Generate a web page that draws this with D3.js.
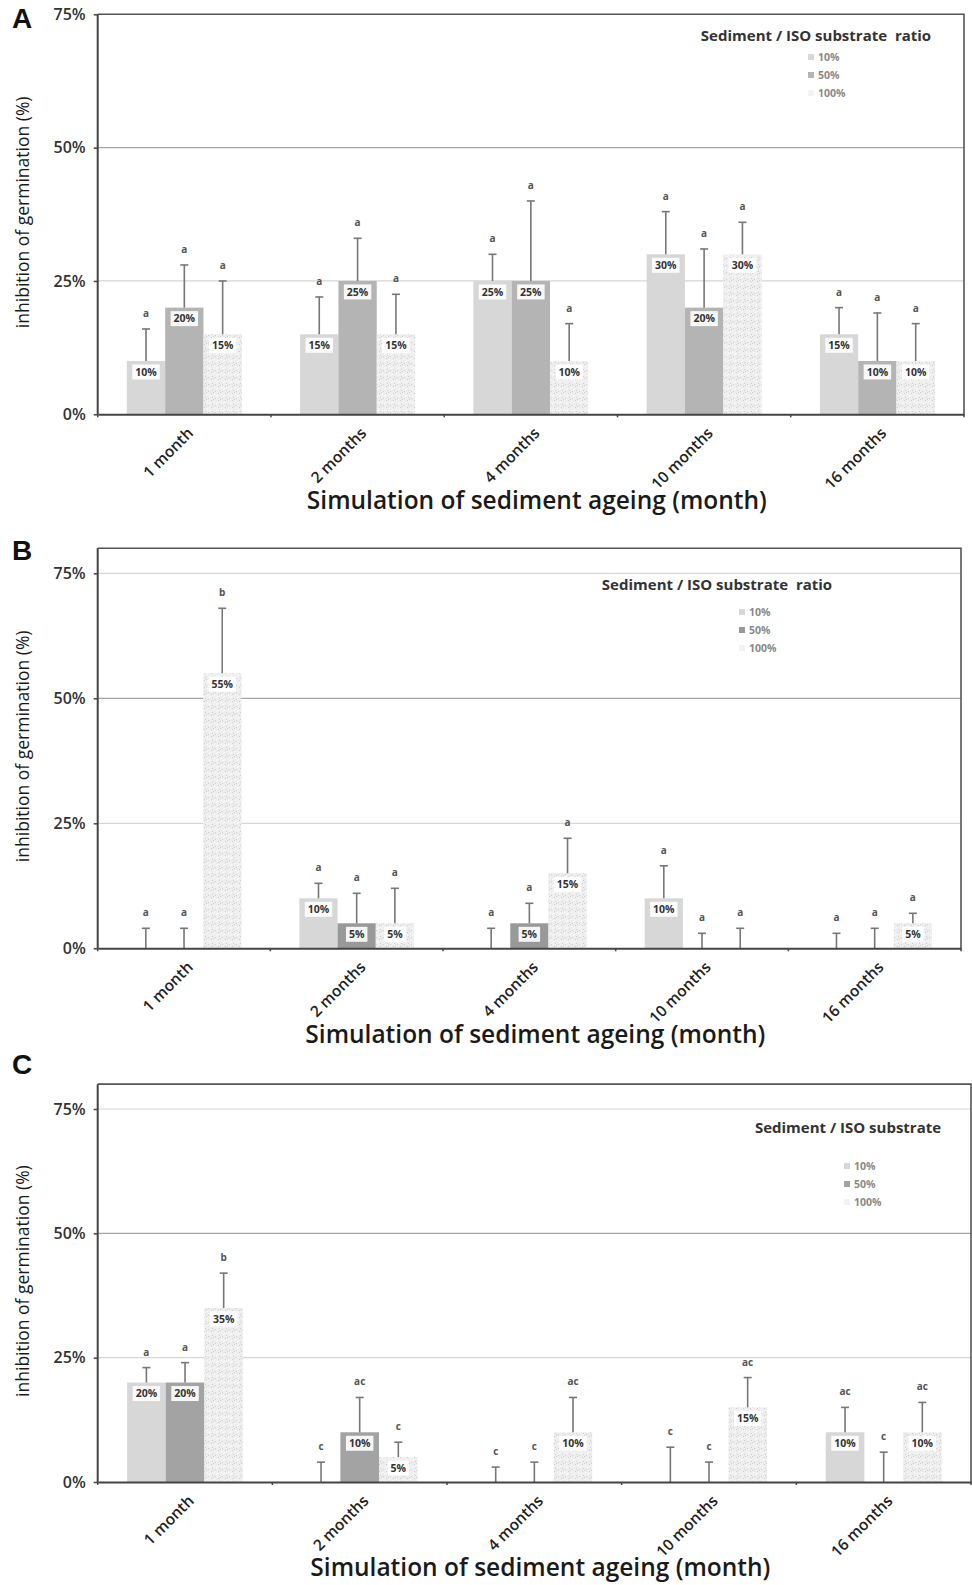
<!DOCTYPE html>
<meta charset="utf-8">
<style>
    html,
    body {
        margin: 0;
        padding: 0;
        background: #fff;
    }

    svg {
        display: block;
        font-family: "Open Sans", sans-serif;
    }
</style>
<svg id="chart" width="972" height="1585"></svg>
<script src="https://d3js.org/d3.v7.min.js"></script>
<script>
    // categories
    const months = ["1 month", "2 months", "4 months", "10 months", "16 months"];
    const ratios = ["10%", "50%", "100%"];
    const yTicks = [0, 25, 50, 75];

    // panel A : mean inhibition (%), standard deviation, letters
    const a10 = [10, 15, 25, 30, 15];
    const a50 = [20, 25, 25, 20, 10];
    const a100 = [15, 15, 10, 30, 10];
    const a10sd = [6, 7, 5, 8, 5];
    const a50sd = [8, 8, 15, 11, 9];
    const a100sd = [10, 7.5, 7, 6, 7];
    const a10let = ["a", "a", "a", "a", "a"];
    const a50let = ["a", "a", "a", "a", "a"];
    const a100let = ["a", "a", "a", "a", "a"];

    // panel B
    const b10 = [0, 10, 0, 10, 0];
    const b50 = [0, 5, 5, 0, 0];
    const b100 = [55, 5, 15, 0, 5];
    const b10sd = [4, 3, 4, 6.5, 3];
    const b50sd = [4, 6, 4, 3, 4];
    const b100sd = [13, 7, 7, 4, 2];
    const b10let = ["a", "a", "a", "a", "a"];
    const b50let = ["a", "a", "a", "a", "a"];
    const b100let = ["b", "a", "a", "a", "a"];

    // panel C
    const c10 = [20, 0, 0, 0, 10];
    const c50 = [20, 10, 0, 0, 0];
    const c100 = [35, 5, 10, 15, 10];
    const c10sd = [3, 4, 3, 7, 5];
    const c50sd = [4, 7, 4, 4, 6];
    const c100sd = [7, 3, 7, 6, 6];
    const c10let = ["a", "c", "c", "c", "ac"];
    const c50let = ["a", "ac", "c", "c", "c"];
    const c100let = ["b", "c", "ac", "ac", "ac"];

    const svg = d3.select("#chart");

    // speckled fill used by the 100% bars
    const defs = svg.append("defs");
    const pat = defs.append("pattern")
        .attr("id", "speckle")
        .attr("width", 7)
        .attr("height", 7)
        .attr("patternUnits", "userSpaceOnUse");
    pat.append("rect").attr("width", 7).attr("height", 7).attr("fill", "#eeeeee");
    [[1, 1], [4, 2], [2, 5], [6, 4], [5, 6], [0, 3], [3, 0]].forEach((p, i) => {
        pat.append("rect")
            .attr("x", p[0]).attr("y", p[1])
            .attr("width", 1).attr("height", 1)
            .attr("fill", i % 2 ? "#fbfbfb" : "#cdcdcd");
    });

    const panels = [
        {
            letter: "A", letterY: 28,
            left: 97.7, right: 964, y0: 414.3, y75: 14.3, yMax: 75,
            values: [a10, a50, a100], sd: [a10sd, a50sd, a100sd], letters: [a10let, a50let, a100let],
            color50: "#b4b4b4",
            legendTitle: "Sediment / ISO substrate  ratio", legX: 816, legY: 36,
            swX: 808, rows: [57, 75, 93],
            titleY: 509
        },
        {
            letter: "B", letterY: 560,
            left: 97.7, right: 961, y0: 948.3, y75: 573.3, yMax: 80,
            values: [b10, b50, b100], sd: [b10sd, b50sd, b100sd], letters: [b10let, b50let, b100let],
            color50: "#999999",
            legendTitle: "Sediment / ISO substrate  ratio", legX: 717, legY: 585,
            swX: 739, rows: [612, 630, 648],
            titleY: 1043
        },
        {
            letter: "C", letterY: 1074,
            left: 97.7, right: 971, y0: 1482, y75: 1109, yMax: 80,
            values: [c10, c50, c100], sd: [c10sd, c50sd, c100sd], letters: [c10let, c50let, c100let],
            color50: "#a3a3a3",
            legendTitle: "Sediment / ISO substrate", legX: 848, legY: 1128,
            swX: 844, rows: [1166, 1184, 1202],
            titleY: 1576
        }
    ];

    panels.forEach(drawPanel);

    function drawPanel(p) {
        const g = svg.append("g");

        const x0 = d3.scaleBand().domain(months).range([p.left, p.right]).padding(0);
        const x1 = d3.scaleBand().domain(ratios).range([0, x0.bandwidth()])
            .paddingInner(0).paddingOuter(0.76);
        const y = d3.scaleLinear().domain([0, 75]).range([p.y0, p.y75]);
        const top = y(p.yMax);
        const fills = ["#d7d7d7", p.color50, "url(#speckle)"];

        // gridlines
        g.selectAll(".grid")
            .data([25, 50, 75].filter(v => v < p.yMax))
            .enter().append("line")
            .attr("x1", p.left).attr("x2", p.right)
            .attr("y1", d => y(d)).attr("y2", d => y(d))
            .attr("stroke", d => d === 50 ? "#a5a5a5" : "#d6d6d6")
            .attr("stroke-width", 1.2);

        // frame
        g.append("path")
            .attr("d", `M${p.left},${top}H${p.right}V${p.y0}`)
            .attr("fill", "none")
            .attr("stroke", "#555")
            .attr("stroke-width", 1.6);

        // flatten the series
        const rows = [];
        ratios.forEach((r, i) => {
            months.forEach((m, j) => {
                rows.push({ m: m, r: r, i: i, v: p.values[i][j], sd: p.sd[i][j], let: p.letters[i][j] });
            });
        });
        const cx = d => x0(d.m) + x1(d.r) + x1.bandwidth() / 2;

        // bars
        g.selectAll(".bar")
            .data(rows.filter(d => d.v > 0))
            .enter().append("rect")
            .attr("x", d => x0(d.m) + x1(d.r))
            .attr("y", d => y(d.v))
            .attr("width", x1.bandwidth())
            .attr("height", d => p.y0 - y(d.v))
            .attr("fill", d => fills[d.i]);

        // error bars
        const err = g.selectAll(".err")
            .data(rows)
            .enter().append("g")
            .attr("stroke", "#777")
            .attr("stroke-width", 1.6);
        err.append("line")
            .attr("x1", cx).attr("x2", cx)
            .attr("y1", d => y(d.v)).attr("y2", d => y(d.v + d.sd));
        err.append("line")
            .attr("x1", d => cx(d) - 4).attr("x2", d => cx(d) + 4)
            .attr("y1", d => y(d.v + d.sd)).attr("y2", d => y(d.v + d.sd));

        // significance letters
        g.selectAll(".sig")
            .data(rows)
            .enter().append("text")
            .attr("x", cx)
            .attr("y", d => y(d.v + d.sd) - 12)
            .attr("text-anchor", "middle")
            .attr("font-size", "10px")
            .attr("font-weight", "bold")
            .attr("fill", "#555")
            .text(d => d.let);

        // value labels in white boxes
        const lab = g.selectAll(".lab")
            .data(rows.filter(d => d.v > 0))
            .enter().append("g");
        lab.append("rect")
            .attr("fill", "#fff")
            .attr("fill-opacity", 0.9);
        lab.append("text")
            .attr("x", cx)
            .attr("y", d => y(d.v) + 11)
            .attr("dy", "0.35em")
            .attr("text-anchor", "middle")
            .attr("font-size", "10.5px")
            .attr("font-weight", "bold")
            .attr("fill", "#333")
            .text(d => d.v + "%");
        lab.each(function (d) {
            const w = d3.select(this).select("text").node().getComputedTextLength() + 6;
            d3.select(this).select("rect")
                .attr("x", cx(d) - w / 2)
                .attr("y", y(d.v) + 3.5)
                .attr("width", w)
                .attr("height", 15);
        });

        // y axis
        const yAxis = g.append("g")
            .attr("transform", `translate(${p.left},0)`)
            .call(d3.axisLeft(y).tickValues(yTicks).tickFormat(d => d + "%").tickSize(4).tickPadding(8));
        yAxis.select(".domain").attr("d", `M0,${top}V${p.y0}`).attr("stroke", "#444").attr("stroke-width", 2);
        yAxis.selectAll(".tick line").attr("stroke", "#444").attr("stroke-width", 1.5);
        yAxis.selectAll(".tick text")
            .attr("font-family", "'Open Sans', sans-serif")
            .attr("font-size", "16px")
            .attr("font-weight", 600)
            .attr("fill", "#333");

        // x axis
        const xAxis = g.append("g")
            .attr("transform", `translate(0,${p.y0})`)
            .call(d3.axisBottom(x0).tickSize(0).tickPadding(0));
        xAxis.select(".domain").attr("stroke", "#444").attr("stroke-width", 2);
        xAxis.selectAll(".tick text")
            .attr("font-family", "'Open Sans', sans-serif")
            .attr("font-size", "15.5px")
            .attr("font-weight", 600)
            .attr("fill", "#222")
            .attr("text-anchor", "end")
            .attr("dy", "0.35em")
            .attr("transform", "translate(6,16) rotate(-45)");
        xAxis.selectAll(".edge")
            .data(d3.range(months.length + 1))
            .enter().append("line")
            .attr("x1", i => p.left + i * x0.step()).attr("x2", i => p.left + i * x0.step())
            .attr("y1", 0).attr("y2", 3)
            .attr("stroke", "#444")
            .attr("stroke-width", 1.5);

        // axis titles
        g.append("text")
            .attr("transform", `translate(29,${(top + p.y0) / 2 - 2}) rotate(-90)`)
            .attr("text-anchor", "middle")
            .attr("font-size", "17.5px")
            .attr("font-weight", 500)
            .attr("fill", "#1a1a1a")
            .text("inhibition of germination (%)");
        g.append("text")
            .attr("x", (p.left + p.right) / 2 + 6)
            .attr("y", p.titleY)
            .attr("text-anchor", "middle")
            .attr("font-size", "24.5px")
            .attr("font-weight", 600)
            .attr("fill", "#1a1a1a")
            .text("Simulation of sediment ageing (month)");

        // panel letter
        g.append("text")
            .attr("x", 12)
            .attr("y", p.letterY)
            .attr("font-family", "'Liberation Sans', Arial, sans-serif")
            .attr("font-weight", "bold")
            .attr("font-size", "28px")
            .attr("fill", "#111")
            .text(p.letter);

        // legend
        g.append("text")
            .attr("x", p.legX)
            .attr("y", p.legY)
            .attr("dy", "0.35em")
            .attr("text-anchor", "middle")
            .attr("font-size", "15px")
            .attr("font-weight", "bold")
            .attr("fill", "#333")
            .attr("xml:space", "preserve")
            .text(p.legendTitle);
        const leg = g.selectAll(".leg")
            .data(ratios)
            .enter().append("g")
            .attr("transform", (d, i) => `translate(${p.swX},${p.rows[i]})`);
        leg.append("rect")
            .attr("x", 0).attr("y", -3)
            .attr("width", 6).attr("height", 6)
            .attr("fill", (d, i) => i === 2 ? "#f2f2f2" : fills[i]);
        leg.append("text")
            .attr("x", 10)
            .attr("dy", "0.35em")
            .attr("font-size", "10.5px")
            .attr("font-weight", "bold")
            .attr("fill", "#888")
            .text(d => d);
    }
</script>
